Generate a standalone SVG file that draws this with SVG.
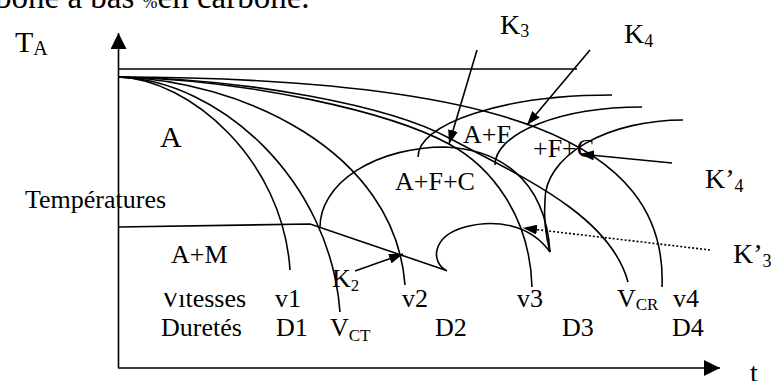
<svg xmlns="http://www.w3.org/2000/svg" width="774" height="381" viewBox="0 0 774 381">
<style>
.c{fill:none;stroke:#000;stroke-width:1.6}
.t{font-family:"Liberation Serif","Times New Roman",serif;font-size:26px;fill:#000}
.s{font-size:17px}
.k{font-size:28px}
</style>
<defs>
<marker id="ah" viewBox="0 0 14 10" refX="14" refY="5" markerWidth="14" markerHeight="10" markerUnits="userSpaceOnUse" orient="auto"><path d="M0,0 L14,5 L0,10 z" fill="#000"/></marker>
<marker id="ax" viewBox="0 0 16 16" refX="16" refY="8" markerWidth="16" markerHeight="16" markerUnits="userSpaceOnUse" orient="auto"><path d="M0,0 L16,8 L0,16 z" fill="#000"/></marker>
<clipPath id="vc"><rect x="150" y="293" width="110" height="30"/></clipPath>
</defs>
<rect width="774" height="381" fill="#fff"/>
<text class="t" x="-5" y="8" style="font-size:33px">bone à bas <tspan style="font-size:18px">%</tspan>en carbone.</text>
<g id="axes">
<line class="c" x1="118.5" y1="368" x2="118.5" y2="33" marker-end="url(#ax)"/>
<line class="c" x1="118" y1="368" x2="720" y2="368" marker-end="url(#ax)"/>
</g>
<g id="curves">
<line class="c" x1="118" y1="69" x2="577" y2="69"/>
<path class="c" d="M118,77 C190,79 283,160 290,270"/>
<path class="c" d="M118,77 C220,80 330,180 340,312"/>
<path class="c" d="M118,77 C240,80 395,150 405,285"/>
<path class="c" d="M118,77 C250,80 390,112 449,144 C490,166 530,215 532,287"/>
<path class="c" d="M118,77 C250,79 390,106 449,138 C520,176 610,215 628,282"/>
<path class="c" d="M118,77 C500,78 668,140 662,287"/>
<path class="c" d="M118,227 L310,224 L445,270"/>
<path class="c" d="M320,227 A125,80 0 0 1 445,147 C495,149 545,175 550,252"/>
<path class="c" d="M418,157 A194,62 0 0 1 612,95"/>
<path class="c" d="M495,165 A147,58 0 0 1 642,107"/>
<path class="c" d="M550,252 Q543,225 545,200 A138,80 0 0 1 683,120"/>
<path class="c" d="M447,271 C430,262 432,236 465,227 C495,219 530,224 550,252"/>
</g>
<g id="connectors">
<line class="c" x1="477" y1="50" x2="449" y2="144" marker-end="url(#ah)"/>
<line class="c" x1="590" y1="50" x2="527" y2="125" marker-end="url(#ah)"/>
<line class="c" x1="672" y1="163" x2="580" y2="154" marker-end="url(#ah)"/>
<line class="c" x1="710" y1="250" x2="523" y2="228" stroke-dasharray="2,2" marker-end="url(#ah)"/>
<line class="c" x1="355" y1="271" x2="403" y2="254" marker-end="url(#ah)"/>
</g>
<g id="labels">
<text class="t" x="15" y="52" style="font-size:30px">T<tspan style="font-size:20px" dy="3">A</tspan></text>
<text class="t" x="160" y="147" style="font-size:30px">A</text>
<text class="t" x="25" y="208">Températures</text>
<text class="t" x="171" y="263">A+M</text>
<text class="t" x="161" y="307" clip-path="url(#vc)">Vitesses</text>
<text class="t" x="275" y="307">v1</text>
<text class="t" x="161" y="336">Duretés</text>
<text class="t" x="276" y="336">D1</text>
<text class="t" x="330" y="336">V<tspan class="s" dy="5">CT</tspan></text>
<text class="t" x="332" y="287">K<tspan class="s" dy="4">2</tspan></text>
<text class="t" x="402" y="307">v2</text>
<text class="t" x="517" y="307">v3</text>
<text class="t" x="617" y="307">V<tspan class="s" dy="3">CR</tspan></text>
<text class="t" x="673" y="307">v4</text>
<text class="t" x="435" y="336">D2</text>
<text class="t" x="562" y="336">D3</text>
<text class="t" x="672" y="336">D4</text>
<text class="t k" x="750" y="382">t</text>
<text class="t k" x="500" y="34">K<tspan style="font-size:18px" dy="3">3</tspan></text>
<text class="t k" x="624" y="43">K<tspan style="font-size:18px" dy="4">4</tspan></text>
<text class="t k" x="705" y="188">K’<tspan style="font-size:18px" dy="4">4</tspan></text>
<text class="t k" x="733" y="263">K’<tspan style="font-size:18px" dy="4">3</tspan></text>
<text class="t" x="395" y="190">A+F+C</text>
<text class="t" x="463" y="143">A+F</text>
<text class="t" x="533" y="157">+F+C</text>
</g>
</svg>
